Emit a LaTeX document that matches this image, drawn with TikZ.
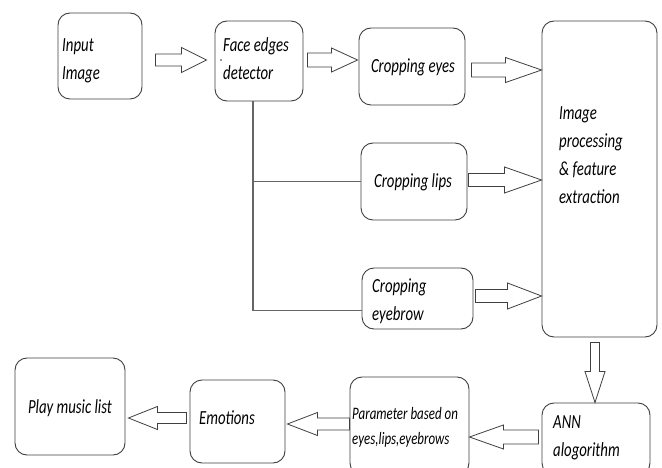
\documentclass[tikz,border=0pt]{standalone}
\usepackage{fontspec}
\setmainfont[FakeStretch=0.74,ItalicFont={Carlito Italic}]{Carlito}
\usetikzlibrary{calc}
\newcommand\blkarrow[5]{% #1 start, #2 tip, #3 head length, #4 body half width, #5 head half width
  \coordinate (tmpH) at ($(#2)!#3!(#1)$);
  \draw[blk] ($(#1)!#4!90:(#2)$) -- ($(tmpH)!#4!90:(#2)$) -- ($(tmpH)!#5!90:(#2)$) -- (#2)
    -- ($(tmpH)!#5!-90:(#2)$) -- ($(tmpH)!#4!-90:(#2)$) -- ($(#1)!#4!-90:(#2)$) -- cycle;
}
\begin{document}
\begin{tikzpicture}[x=1pt,y=-1pt,
  box/.style={draw=black!75, line width=0.9pt, rounded corners=12pt, fill=white, inner sep=0pt},
  lbl/.style={font=\fontsize{20}{28}\selectfont\itshape, text=black, inner sep=0pt, align=left},
  slbl/.style={font=\fontsize{17.5}{25}\selectfont\itshape, text=black, inner sep=0pt, align=left},
  blk/.style={draw=black!75, line width=0.8pt, fill=white, line join=miter},
  tree/.style={draw=black!60, line width=1.2pt}]
\useasboundingbox (0,0) rectangle (662,468);
\clip (0,0) rectangle (662,468);
\fill[white] (0,0) rectangle (662,468);
% boxes
\node[box, minimum width=84pt, minimum height=86pt] (inp) at (100,56) {};
\node[box, minimum width=88pt, minimum height=80pt] (face) at (259,61) {};
\node[box, minimum width=106pt, minimum height=77pt] (eyes) at (412,66.5) {};
\node[box, minimum width=106pt, minimum height=77pt] (lips) at (414,181.5) {};
\node[box, minimum width=111pt, minimum height=61pt] (brow) at (417.5,298.5) {};
\node[box, minimum width=115pt, minimum height=316pt] (proc) at (599.5,179) {};
\node[box, minimum width=108pt, minimum height=72pt] (ann) at (596,439) {};
\node[box, minimum width=119pt, minimum height=98pt] (param) at (409.5,426) {};
\node[box, minimum width=95pt, minimum height=83pt] (emo) at (237.5,421.5) {};
\node[box, minimum width=110pt, minimum height=97pt] (play) at (70,406.5) {};
% labels
\node[lbl, anchor=west] (tinp) at (62,60.5) {Input\\Image};
\node[lbl, anchor=west] (tface) at (223,59) {Face edges\\detector};
\fill[black!80] (221,60) circle (0.8pt);
\node[lbl] (teyes) at (413,67) {Cropping eyes};
\node[lbl] (tlips) at (413,182) {Cropping lips};
\node[lbl, anchor=west] (tbrow) at (372,301.5) {Cropping\\eyebrow};
\node[lbl, anchor=west] (tproc) at (559,155.5) {Image\\processing\\\& feature\\extraction};
\node[lbl, anchor=west] (tann) at (553,437.5) {ANN\\alogorithm};
\node[slbl, anchor=west] (tparam) at (352,427.5) {Parameter based on\\eyes,lips,eyebrows};
\node[lbl, anchor=west] (temo) at (199,418) {Emotions};
\node[lbl] (tplay) at (70,408) {Play music list};
% tree connectors
\coordinate (trtop) at ($(face.south)+(-6,0)$);
\coordinate (trlips) at (trtop |- lips.west);
\coordinate (trbrow) at ($(trtop |- brow.south)+(0,-19)$);
\draw[tree] (trtop) -- (trbrow) -- (brow.west |- trbrow);
\draw[tree] (trlips) -- (lips.west);
% block arrows
\coordinate (a1s) at ($(inp.east)+(13,4)$);   \coordinate (a1e) at ($(face.west)+(-8,-1)$);
\coordinate (a2s) at ($(face.east)+(4,-1)$);  \coordinate (a2e) at ($(eyes.west)+(-1,-6.5)$);
\coordinate (a3s) at ($(eyes.east)+(6,3.5)$); \coordinate (a3e) at ($(proc.west |- eyes.east)+(0,3.5)$);
\coordinate (a4s) at ($(lips.east)+(1,-1.5)$);\coordinate (a4e) at ($(proc.west |- lips.east)+(0,-1.5)$);
\coordinate (a5s) at ($(brow.east)+(2,-2.5)$);\coordinate (a5e) at ($(proc.west |- brow.east)+(0,-2.5)$);
\coordinate (a6s) at ($(proc.south)+(-4.5,5)$);\coordinate (a6e) at ($(ann.north)+(-1,0)$);
\coordinate (a7s) at ($(ann.west)+(-3,-2)$);  \coordinate (a7e) at ($(param.east)+(0,11)$);
\coordinate (a8s) at ($(param.west)+(0,-2)$); \coordinate (a8e) at ($(emo.east)+(2,2.5)$);
\coordinate (a9s) at ($(emo.west)+(-3,-3.5)$);\coordinate (a9e) at ($(play.east)+(3,11.5)$);
\blkarrow{a1s}{a1e}{25pt}{6pt}{12.5pt}
\blkarrow{a2s}{a2e}{26pt}{7pt}{12pt}
\blkarrow{a3s}{a3e}{36pt}{7pt}{12.5pt}
\blkarrow{a4s}{a4e}{37pt}{6.5pt}{13pt}
\blkarrow{a5s}{a5e}{34pt}{6.5pt}{13pt}
\blkarrow{a6s}{a6e}{31pt}{4.5pt}{10pt}
\blkarrow{a7s}{a7e}{34pt}{7pt}{12pt}
\blkarrow{a8s}{a8e}{30pt}{6pt}{11.5pt}
\blkarrow{a9s}{a9e}{29pt}{5.5pt}{11.5pt}
\end{tikzpicture}
\end{document}
